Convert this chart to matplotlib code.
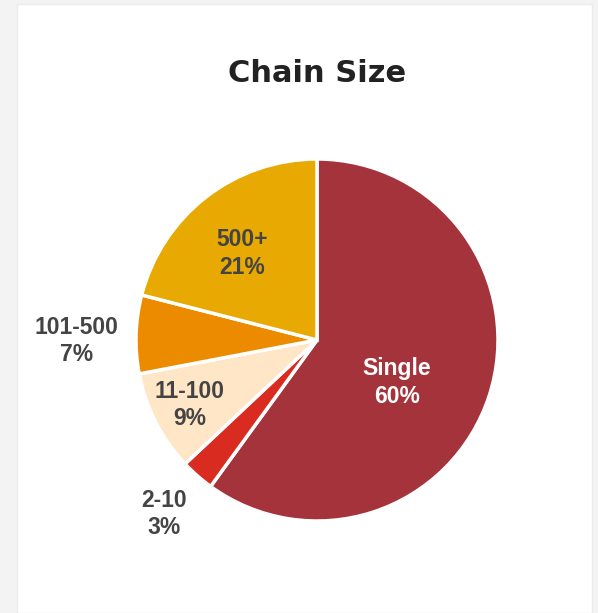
import numpy as np
import matplotlib
matplotlib.use("Agg")
import matplotlib.pyplot as plt
from matplotlib.patches import Rectangle

# data
categorias = ['Single', '2-10', '11-100', '101-500', '500+']
porcentajes = [60, 3, 9, 7, 21]
colores = ['#A5333B', '#D92B1F', '#FFE6C6', '#ED8B00', '#E8A902']
color_texto = ['white', '#444444', '#444444', '#444444', '#444444']
dist_etiqueta = [0.50, 1.28, 0.79, 1.33, 0.63]
giro_etiqueta = [-10, 0, 0, 2, 3]   # grados extra sobre el angulo medio

fig = plt.figure(figsize=(5.98, 6.13), dpi=100)
fig.patch.set_facecolor('#F3F3F3')
# tarjeta blanca
fig.patches.append(Rectangle((17/598, 0), 575/598, 1 - 4/613, transform=fig.transFigure,
                             facecolor='white', edgecolor='#EBEBEB', linewidth=1, zorder=-5))

fig.text(317/598, 1 - 73/613, 'Chain Size', ha='center', va='center',
         fontsize=22, fontweight='heavy', color='#222222', family='DejaVu Sans')

r_px = 181
ax = fig.add_axes([(317 - r_px)/598, 1 - (340 + r_px)/613, 2*r_px/598, 2*r_px/613])
ax.set_zorder(2)
ax.axis('off')

wedges, _ = ax.pie(porcentajes, colors=colores, startangle=90, counterclock=False,
                   radius=1, wedgeprops=dict(edgecolor='white', linewidth=2.5))
ax.set_xlim(-1, 1)
ax.set_ylim(-1, 1)

for w, cat, p, c, d, g in zip(wedges, categorias, porcentajes, color_texto,
                              dist_etiqueta, giro_etiqueta):
    ang = np.deg2rad((w.theta1 + w.theta2) / 2 + g)
    ax.text(d*np.cos(ang), d*np.sin(ang), '%s\n%d%%' % (cat, p), ha='center', va='center',
            fontsize=16.5, fontweight='bold', color=c, family='Liberation Sans',
            linespacing=1.25, clip_on=False)

fig.savefig('out.png', dpi=100, facecolor=fig.get_facecolor())
